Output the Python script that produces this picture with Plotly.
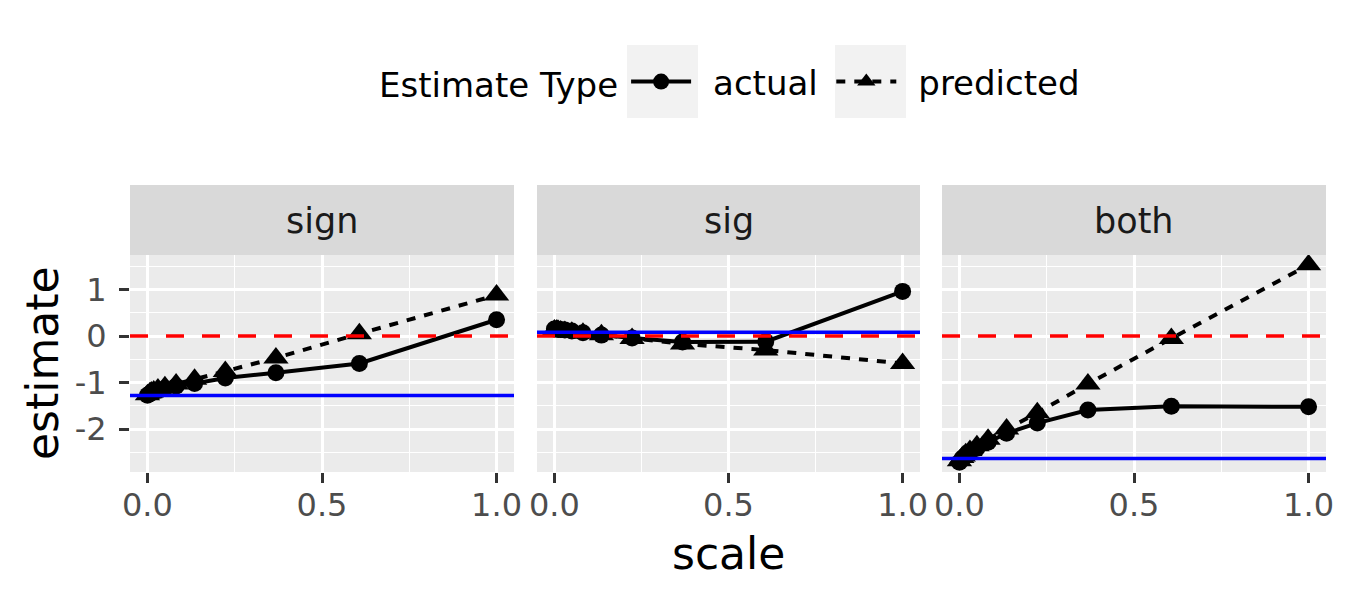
import plotly.graph_objects as go

# facet panels and x values
panels = ["sign", "sig", "both"]
scale = [0.0, 0.007, 0.011, 0.018, 0.030, 0.050, 0.082, 0.135, 0.223, 0.368, 0.607, 1.0]

# estimates
sign_actual = [-1.27, -1.24, -1.22, -1.20, -1.17, -1.13, -1.08, -1.02, -0.90, -0.79, -0.59, 0.35]
sign_predicted = [-1.26, -1.22, -1.20, -1.18, -1.14, -1.09, -1.03, -0.93, -0.76, -0.47, 0.05, 0.88]
sig_actual = [0.15, 0.15, 0.14, 0.14, 0.13, 0.11, 0.07, 0.02, -0.04, -0.13, -0.12, 0.96]
sig_predicted = [0.13, 0.13, 0.12, 0.11, 0.10, 0.08, 0.06, 0.03, -0.05, -0.17, -0.30, -0.59]
both_actual = [-2.71, -2.64, -2.61, -2.57, -2.50, -2.41, -2.28, -2.09, -1.87, -1.59, -1.51, -1.52]
both_predicted = [-2.68, -2.61, -2.58, -2.53, -2.46, -2.36, -2.22, -2.00, -1.65, -1.03, -0.05, 1.53]

# reference lines per panel
baseline = [-1.28, 0.08, -2.63]
zero_line = 0.0

x_tickvals = [0.0, 0.5, 1.0]
x_ticktext = ["0.0", "0.5", "1.0"]
y_tickvals = [-2, -1, 0, 1]
y_ticktext = ["-2", "-1", "0", "1"]

actual_series = [sign_actual, sig_actual, both_actual]
predicted_series = [sign_predicted, sig_predicted, both_predicted]

FONT = "DejaVu Sans"
# the page body has an 8px margin, so the figure is 8px smaller and positions are shifted
OFF = 8
W, H = 1350 - OFF, 600 - OFF


def fx(px):
    return (px - OFF) / W


def fy(py):
    return 1 - (py - OFF) / H


# panel geometry (pixels in the final picture)
panel_x = [(130, 514), (537, 920), (942, 1326)]
panel_top, panel_bottom = 255, 472
strip_top = 185

all_vals = sign_actual + sign_predicted + sig_actual + sig_predicted + both_actual + both_predicted + baseline + [zero_line]
lo, hi = min(all_vals), max(all_vals)
pad = 0.05 * (hi - lo)
y_range = [lo - pad, hi + pad]

fig = go.Figure()

for i, name in enumerate(panels):
    n = i + 1
    xa = "x" if n == 1 else f"x{n}"
    ya = "y" if n == 1 else f"y{n}"
    fig.add_trace(go.Scatter(
        x=scale, y=actual_series[i], xaxis=xa, yaxis=ya,
        mode="lines+markers", name="\u2002actual\u2005", legendgroup="actual",
        showlegend=(n == 1),
        line=dict(color="black", width=4),
        marker=dict(symbol="circle", size=17, color="black"),
    ))
    fig.add_trace(go.Scatter(
        x=scale, y=predicted_series[i], xaxis=xa, yaxis=ya,
        mode="lines+markers", name="\u2002predicted", legendgroup="predicted",
        showlegend=(n == 1),
        line=dict(color="black", width=4, dash="9px,9px"),
        marker=dict(symbol="triangle-up", size=22, color="black"),
    ))

layout = dict(
    width=W, height=H,
    paper_bgcolor="white", plot_bgcolor="#ebebeb",
    margin=dict(l=0, r=0, t=0, b=0),
    font=dict(family=FONT, size=34, color="black"),
    showlegend=True,
    legend=dict(
        orientation="h", x=fx(377), xanchor="left", y=fy(82), yanchor="middle",
        title=dict(text="Estimate Type", side="left", font=dict(size=34)),
        font=dict(size=34), itemwidth=60, bgcolor="rgba(0,0,0,0)",
    ),
)

shapes = []
annotations = []
for i, name in enumerate(panels):
    n = i + 1
    x0, x1 = panel_x[i]
    xkey = "xaxis" if n == 1 else f"xaxis{n}"
    ykey = "yaxis" if n == 1 else f"yaxis{n}"
    layout[xkey] = dict(
        domain=[fx(x0), fx(x1)], range=[-0.05, 1.05], anchor="y" if n == 1 else f"y{n}",
        tickvals=x_tickvals, ticktext=x_ticktext,
        ticks="outside", ticklen=10, tickwidth=3, tickcolor="#333333",
        tickfont=dict(size=32, color="#4d4d4d"), ticklabelstandoff=-5,
        showgrid=True, gridcolor="white", gridwidth=2.7,
        minor=dict(tickvals=[0.25, 0.75], showgrid=True, gridcolor="white", gridwidth=1.3),
        zeroline=False, showline=False, automargin=False,
    )
    layout[ykey] = dict(
        domain=[fy(panel_bottom), fy(panel_top)], range=y_range,
        anchor="x" if n == 1 else f"x{n}",
        matches=None if n == 1 else "y",
        tickvals=y_tickvals, ticktext=y_ticktext,
        ticks="outside" if n == 1 else "", ticklen=10, tickwidth=3, tickcolor="#333333",
        showticklabels=(n == 1),
        tickfont=dict(size=32, color="#4d4d4d"), ticklabelstandoff=6,
        showgrid=True, gridcolor="white", gridwidth=2.7,
        minor=dict(tickvals=[-2.5, -1.5, -0.5, 0.5, 1.5], showgrid=True, gridcolor="white", gridwidth=1.3),
        zeroline=False, showline=False, automargin=False,
    )
    xr = "x" if n == 1 else f"x{n}"
    yr = "y" if n == 1 else f"y{n}"
    shapes.append(dict(type="line", xref=f"{xr} domain", yref=yr, x0=0, x1=1,
                       y0=zero_line, y1=zero_line, layer="above",
                       line=dict(color="red", width=3.5, dash="18px,18px")))
    shapes.append(dict(type="line", xref=f"{xr} domain", yref=yr, x0=0, x1=1,
                       y0=baseline[i], y1=baseline[i], layer="above",
                       line=dict(color="blue", width=3.5)))
    # facet strip
    shapes.append(dict(type="rect", xref="paper", yref="paper",
                       x0=fx(x0), x1=fx(x1), y0=fy(panel_top), y1=fy(strip_top),
                       fillcolor="#d9d9d9", line=dict(width=0), layer="below"))
    annotations.append(dict(text=name, xref="paper", yref="paper",
                            x=fx((x0 + x1) / 2), y=fy(221),
                            showarrow=False, xanchor="center", yanchor="middle",
                            font=dict(size=35, color="#1a1a1a")))

# legend key backgrounds
for kx0, kx1 in [(627, 698), (835, 906)]:
    shapes.append(dict(type="rect", xref="paper", yref="paper",
                       x0=fx(kx0), x1=fx(kx1), y0=fy(118), y1=fy(45),
                       fillcolor="#f2f2f2", line=dict(width=0), layer="below"))

annotations.append(dict(text="scale", xref="paper", yref="paper",
                        x=fx(728), y=fy(553), showarrow=False,
                        xanchor="center", yanchor="middle", font=dict(size=44)))
annotations.append(dict(text="estimate", xref="paper", yref="paper",
                        x=fx(42), y=fy(363), showarrow=False, textangle=-90,
                        xanchor="center", yanchor="middle", font=dict(size=44)))

layout["shapes"] = shapes
layout["annotations"] = annotations
fig.update_layout(**layout)

fig.write_html("out.html")
